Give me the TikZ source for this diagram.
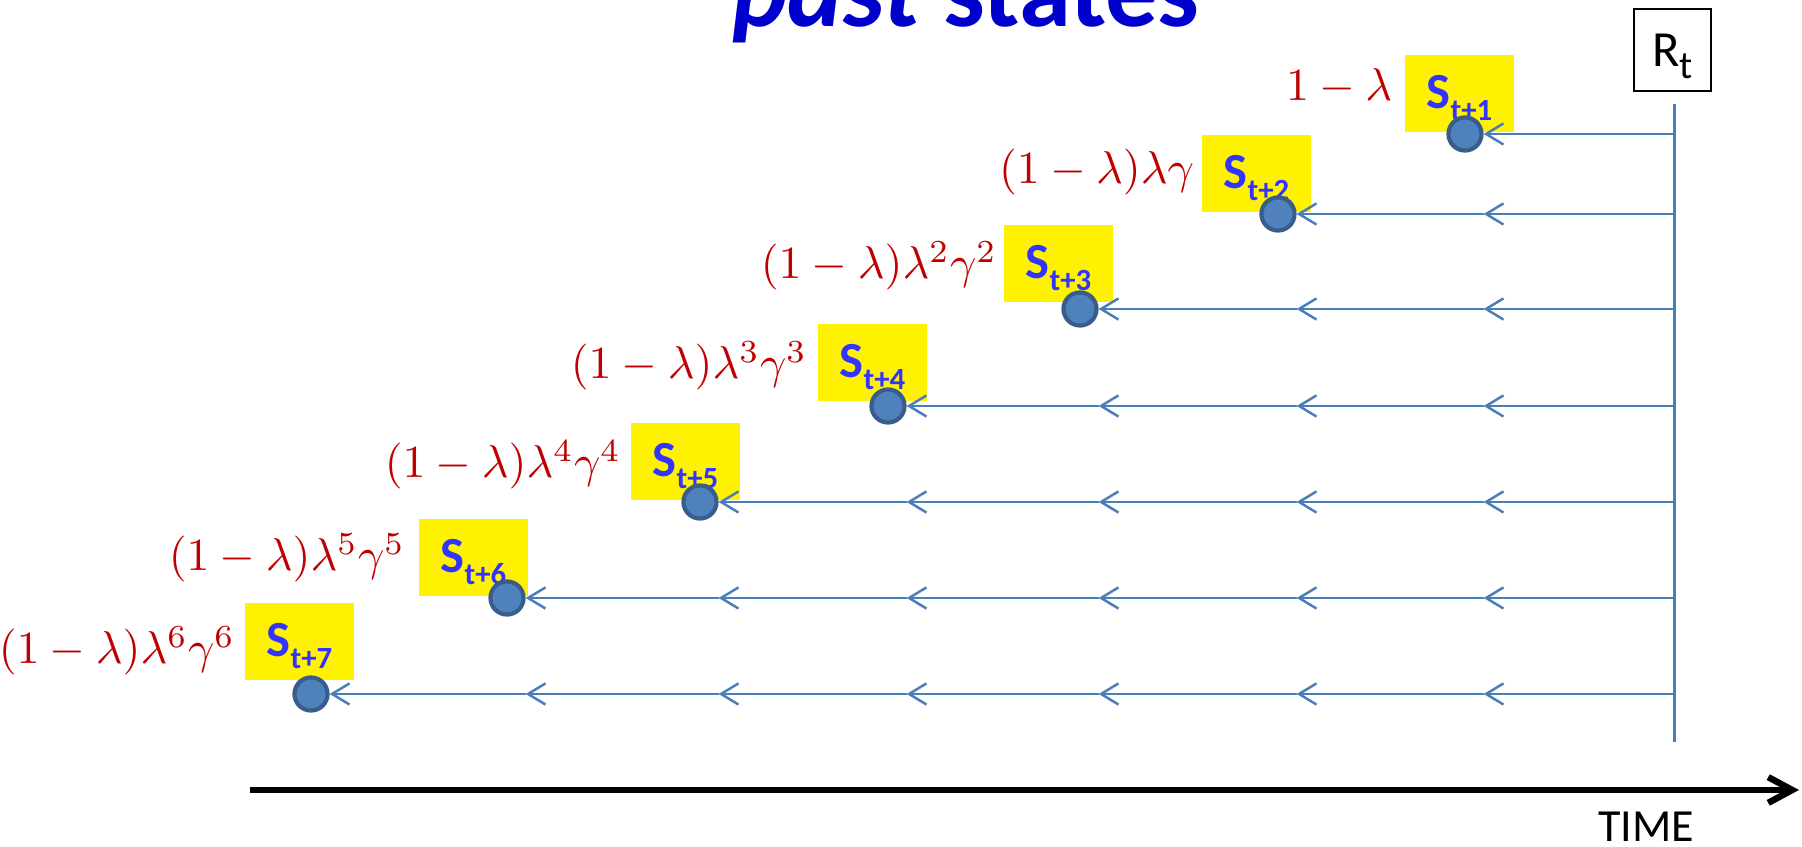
\documentclass[tikz,border=0pt]{standalone}
\usepackage{fontspec}
\usepackage{tikz}
\usetikzlibrary{arrows.meta}
\newfontfamily\calibri{Carlito}
\definecolor{titleblue}{RGB}{0,0,204}
\definecolor{stateblue}{RGB}{51,51,255}
\definecolor{weightred}{RGB}{192,0,0}
\definecolor{linkblue}{RGB}{74,126,187}
\definecolor{dotblue}{RGB}{79,129,189}
\definecolor{dotedge}{RGB}{56,93,138}
\newcommand{\lowsub}[2]{\raisebox{-2.6pt}{\fontsize{#1}{#1}\selectfont #2}}

\begin{document}
\begin{tikzpicture}[x=0.21739pt, y=-0.21739pt,
    stdot/.style={circle, fill=dotblue, draw=dotedge, line width=0.9pt, minimum size=7.2pt, inner sep=0pt},
    sbox/.style={fill=yellow, anchor=north west, minimum width=23.7pt, minimum height=16.74pt, inner sep=0pt,
        text height=9.3pt, text depth=2.6pt, text=stateblue, font={\calibri\bfseries\fontsize{11}{13}\selectfont}},
    wt/.style={anchor=base east, inner sep=0pt, text=weightred, font={\fontsize{9.6}{12}\selectfont}},
    backlink/.style={draw=linkblue, line width=0.54pt, -{Straight Barb[length=3.8pt, width=4.6pt]}}]
            \useasboundingbox (0,0) rectangle (1802,847);
            \clip (0,0) rectangle (1802,847);

            \node[anchor=base, text=titleblue, font={\calibri\bfseries\fontsize{22.8}{24}\selectfont}] (title) at (966,27) {{\itshape past} states};

            \node[draw, line width=0.43pt, anchor=north west, minimum width=16.74pt, minimum height=17.83pt, inner sep=0pt,
                text height=9.3pt, text depth=2.2pt, font={\calibri\fontsize{11}{13}\selectfont}] (rt) at (1633,8) {R\lowsub{8.5}{t}};
            \coordinate (vtop) at (1674,104);
            \coordinate (vbot) at (1674,742);
            \draw[draw=linkblue, line width=0.65pt] (vtop) -- (vbot);

            % yellow state boxes
            \node[sbox] (s1) at (1404,54) {S\lowsub{6.7}{t+1}};
            \node[sbox] (s2) at (1201,134) {S\lowsub{6.7}{t+2}};
            \node[sbox] (s3) at (1003,224) {S\lowsub{6.7}{t+3}};
            \node[sbox] (s4) at (817,323) {S\lowsub{6.7}{t+4}};
            \node[sbox] (s5) at (630,422) {S\lowsub{6.7}{t+5}};
            \node[sbox] (s6) at (418,518) {S\lowsub{6.7}{t+6}};
            \node[sbox] (s7) at (244,602) {S\lowsub{6.7}{t+7}};

            % weights
            \node[wt] (w1) at (1393,101) {$1-\lambda$};
            \node[wt] (w2) at (1195,184) {$(1-\lambda)\lambda\gamma$};
            \node[wt] (w3) at (998,279) {$(1-\lambda)\lambda^2\gamma^2$};
            \node[wt] (w4) at (808,379) {$(1-\lambda)\lambda^3\gamma^3$};
            \node[wt] (w5) at (622,478) {$(1-\lambda)\lambda^4\gamma^4$};
            \node[wt] (w6) at (406,571) {$(1-\lambda)\lambda^5\gamma^5$};
            \node[wt] (w7) at (236,664) {$(1-\lambda)\lambda^6\gamma^6$};

            % states
            \node[stdot] (c1) at (1465,134) {};
            \node[stdot] (c2) at (1278,214) {};
            \node[stdot] (c3) at (1080,309) {};
            \node[stdot] (c4) at (888,406) {};
            \node[stdot] (c5) at (700,502) {};
            \node[stdot] (c6) at (507,598) {};
            \node[stdot] (c7) at (311,694) {};

            % return flows back to each state
            \draw[backlink] (vtop |- c1) -- (c1);

            \draw[backlink] (vtop |- c2) -- (c1.east |- c2);
            \draw[backlink] (c1.east |- c2) -- (c2);

            \draw[backlink] (vtop |- c3) -- (c1.east |- c3);
            \draw[backlink] (c1.east |- c3) -- (c2.east |- c3);
            \draw[backlink] (c2.east |- c3) -- (c3);

            \draw[backlink] (vtop |- c4) -- (c1.east |- c4);
            \draw[backlink] (c1.east |- c4) -- (c2.east |- c4);
            \draw[backlink] (c2.east |- c4) -- (c3.east |- c4);
            \draw[backlink] (c3.east |- c4) -- (c4);

            \draw[backlink] (vtop |- c5) -- (c1.east |- c5);
            \draw[backlink] (c1.east |- c5) -- (c2.east |- c5);
            \draw[backlink] (c2.east |- c5) -- (c3.east |- c5);
            \draw[backlink] (c3.east |- c5) -- (c4.east |- c5);
            \draw[backlink] (c4.east |- c5) -- (c5);

            \draw[backlink] (vtop |- c6) -- (c1.east |- c6);
            \draw[backlink] (c1.east |- c6) -- (c2.east |- c6);
            \draw[backlink] (c2.east |- c6) -- (c3.east |- c6);
            \draw[backlink] (c3.east |- c6) -- (c4.east |- c6);
            \draw[backlink] (c4.east |- c6) -- (c5.east |- c6);
            \draw[backlink] (c5.east |- c6) -- (c6);

            \draw[backlink] (vtop |- c7) -- (c1.east |- c7);
            \draw[backlink] (c1.east |- c7) -- (c2.east |- c7);
            \draw[backlink] (c2.east |- c7) -- (c3.east |- c7);
            \draw[backlink] (c3.east |- c7) -- (c4.east |- c7);
            \draw[backlink] (c4.east |- c7) -- (c5.east |- c7);
            \draw[backlink] (c5.east |- c7) -- (c6.east |- c7);
            \draw[backlink] (c6.east |- c7) -- (c7);

            % time axis
            \coordinate (tstart) at (250,790);
            \coordinate (tend) at (1799,790);
            \draw[line width=1.41pt, -{Straight Barb[length=5.2pt, width=5.6pt]}] (tstart) -- (tend);
            \node[anchor=base, inner sep=0pt, font={\calibri\fontsize{10}{12}\selectfont}] (time) at (1646,842) {TIME};
        \end{tikzpicture}
\end{document}
